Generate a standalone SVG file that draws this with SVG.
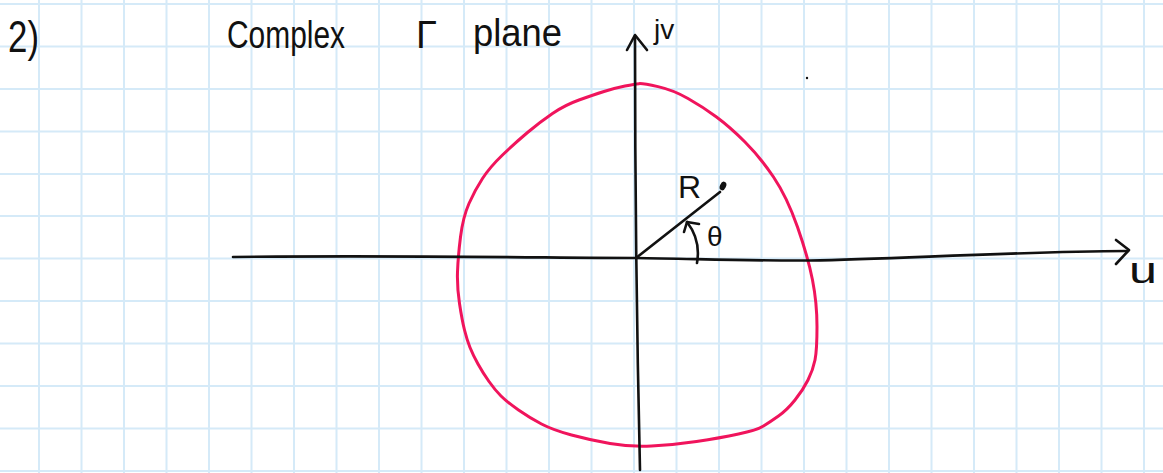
<svg xmlns="http://www.w3.org/2000/svg" width="1163" height="473" viewBox="0 0 1163 473">
<style>
.grid{stroke:#d5eaf8;stroke-width:2;fill:none}
.ink{stroke:#111;stroke-width:2.6;fill:none;stroke-linecap:round;stroke-linejoin:round}
.txt{font-family:"Liberation Sans","DejaVu Sans",sans-serif;fill:#111}
.curve{stroke:#f0145c;stroke-width:3;fill:none;stroke-linejoin:round}
</style>
<rect width="1163" height="473" fill="#fff"/>
<g id="grid">
<path class="grid" d="M39,0V473M81.5,0V473M124,0V473M166.5,0V473M209,0V473M251.5,0V473M294,0V473M336.5,0V473M379,0V473M421.5,0V473M464,0V473M506.5,0V473M549,0V473M591.5,0V473M634,0V473M676.5,0V473M719,0V473M761.5,0V473M804,0V473M846.5,0V473M889,0V473M931.5,0V473M974,0V473M1016.5,0V473M1059,0V473M1101.5,0V473M1144,0V473"/>
<path class="grid" d="M0,4H1163M0,46.5H1163M0,89H1163M0,131.5H1163M0,174H1163M0,216H1163M0,258.5H1163M0,301H1163M0,343.5H1163M0,386H1163M0,428.5H1163M0,471H1163"/>
</g>
<g id="title">
<text class="txt" x="8" y="52" font-size="44" textLength="31" lengthAdjust="spacingAndGlyphs">2)</text>
<text class="txt" x="227" y="48" font-size="38" textLength="118" lengthAdjust="spacingAndGlyphs">Complex</text>
<text class="txt" x="416" y="48" font-size="38">Γ</text>
<text class="txt" x="473" y="46" font-size="38" textLength="89" lengthAdjust="spacingAndGlyphs">plane</text>
</g>
<g id="circle">
<path class="curve" d="M639,83.65 Q643,83.3 658,86.65 Q673,90 688,98.5 Q703,107 716.5,117 Q730,127 745,142 Q760,157 773.5,177 Q787,197 797.5,227 Q808,257 812.5,280 Q817,303 817,326.5 Q817,350 815,360 Q813,370 808,380 Q803,390 795,400 Q787,410 778.5,416 Q770,422 763.5,426 Q757,430 738.5,434 Q720,438 696.5,441.5 Q673,445 651.5,446 Q630,447 610,443.5 Q590,440 571.5,435 Q553,430 541.5,424 Q530,418 518.5,410 Q507,402 501,396 Q495,390 489,381.5 Q483,373 478,364 Q473,355 470,347.5 Q467,340 464.5,330 Q462,320 459.5,303.5 Q457,287 457.5,272 Q458,257 460.5,237 Q463,217 469,203.5 Q475,190 482.5,178.5 Q490,167 502.5,155 Q515,143 527.5,132.5 Q540,122 552.5,113.5 Q565,105 579,100 Q593,95 604,91.5 Q615,88 625,86 Q635,84 639,83.65 Z"/>
</g>
<g id="connectors">
<path class="ink" d="M233,257 C400,255 560,258 636,258 C700,259 760,261 810,260.5 C900,259 1000,252 1128,251"/>
<path class="ink" d="M1116,240 L1129,250 L1116,264"/>
<path class="ink" d="M635,36 C635,150 636,300 640,470"/>
<path class="ink" d="M627,50 L635,35 L647,50"/>
<path class="ink" d="M636,258 L720,192"/>
<ellipse cx="723" cy="186" rx="3" ry="4.5" fill="#111" transform="rotate(25 723 186)"/>
<path class="ink" d="M697,263 Q701,240 687,222"/>
<path class="ink" d="M684,232 L687,222 L699,224"/>
<circle cx="807" cy="78" r="1.2" fill="#111"/>
</g>
<g id="labels">
<text class="txt" x="654" y="39" font-size="28">jv</text>
<text class="txt" x="678" y="198" font-size="32">R</text>
<text class="txt" x="707" y="246" font-size="28">θ</text>
<text class="txt" x="1129" y="283" font-size="36" textLength="28" lengthAdjust="spacingAndGlyphs">u</text>
</g>
</svg>
